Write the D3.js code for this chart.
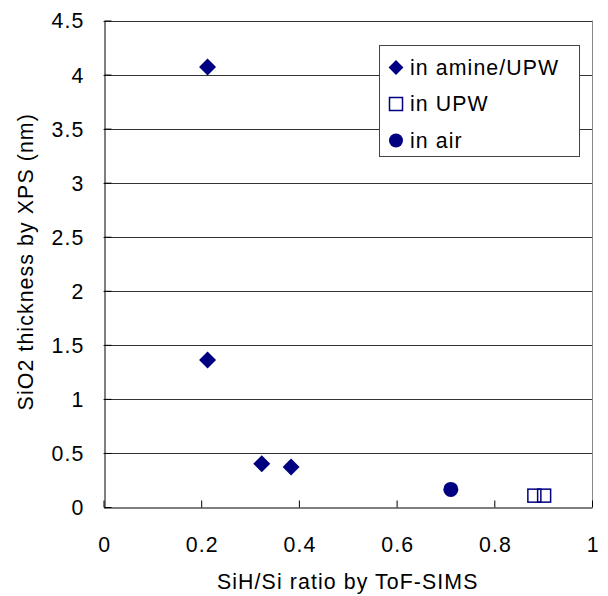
<!DOCTYPE html>
<html>
<head>
<meta charset="utf-8">
<script src="https://cdn.jsdelivr.net/npm/d3@7"></script>
<style>
  body { margin: 0; background: #fff; }
  svg text { font-family: "Liberation Sans", Arial, sans-serif; fill: #000; letter-spacing: 1.1px; }
</style>
</head>
<body>
<svg id="chart" width="608" height="596"></svg>
<script>
// data
var amineX = [0.213, 0.213, 0.324, 0.384];
var amineY = [4.07, 1.36, 0.40, 0.37];
var upwX = [0.882, 0.902];
var upwY = [0.105, 0.105];
var airX = [0.711];
var airY = [0.163];
var xTicks = [0, 0.2, 0.4, 0.6, 0.8, 1];
var yTicks = [0, 0.5, 1, 1.5, 2, 2.5, 3, 3.5, 4, 4.5];
var legendLabels = ["in amine/UPW", "in UPW", "in air"];

const navy = '#000080';
const fontSize = 21.3;
const margin = { top: 20.5, right: 16, bottom: 89, left: 103.5 },
    width = 608,
    height = 596;

const svg = d3.select('#chart');

const x = d3.scaleLinear().domain([0, 1]).range([margin.left, width - margin.right]);
const y = d3.scaleLinear().domain([0, 4.5]).range([height - margin.bottom, margin.top]);

// gridlines
svg.append('g')
    .selectAll('line')
    .data(yTicks.filter((d) => d > 0))
    .join('line')
    .attr('x1', x(0))
    .attr('x2', x(1))
    .attr('y1', (d) => Math.round(y(d)) + 0.5)
    .attr('y2', (d) => Math.round(y(d)) + 0.5)
    .attr('stroke', '#333')
    .attr('stroke-width', 1);

// right border of plot area
svg.append('line')
    .attr('x1', Math.round(x(1)) + 0.5)
    .attr('x2', Math.round(x(1)) + 0.5)
    .attr('y1', y(4.5))
    .attr('y2', y(0))
    .attr('stroke', '#888');

const xAxis = (g) =>
    g.attr('transform', `translate(0,${Math.round(y(0)) + 0.5})`)
        .call(d3.axisTop(x).tickValues(xTicks).tickFormat(d3.format('')).tickSizeInner(7).tickSizeOuter(0))
        .call((g) => g.selectAll('line, path').attr('stroke', '#000'))
        .call((g) => g.selectAll('text')
            .attr('y', 44)
            .attr('dy', 0)
            .attr('dx', 0.6)
            .attr('font-size', fontSize));

const yAxis = (g) =>
    g.attr('transform', `translate(${Math.round(x(0)) + 0.5},0)`)
        .call(d3.axisRight(y).tickValues(yTicks).tickFormat(d3.format('')).tickSizeInner(7).tickSizeOuter(0))
        .call((g) => g.selectAll('line, path').attr('stroke', '#000'))
        .call((g) => g.selectAll('text')
            .attr('x', -20)
            .attr('dy', '0.35em')
            .attr('text-anchor', 'end')
            .attr('font-size', fontSize));

svg.append('g').call(xAxis);
svg.append('g').call(yAxis);

// axis titles
svg.append('text')
    .attr('x', (x(0) + x(1)) / 2)
    .attr('y', 589)
    .attr('text-anchor', 'middle')
    .attr('font-size', fontSize)
    .text('SiH/Si ratio by ToF-SIMS');

svg.append('text')
    .attr('transform', `translate(33,${(y(0) + y(4.5)) / 2 - 2}) rotate(-90)`)
    .attr('text-anchor', 'middle')
    .attr('font-size', fontSize)
    .text('SiO2 thickness by XPS (nm)');

// in amine/UPW
svg.append('g')
    .selectAll('path')
    .data(amineX.map((d, i) => ({ x: d, y: amineY[i] })))
    .join('path')
    .attr('transform', (d) => `translate(${x(d.x)},${y(d.y)}) rotate(45)`)
    .attr('d', d3.symbol().type(d3.symbolSquare).size(144))
    .attr('fill', navy);

// in UPW
svg.append('g')
    .selectAll('rect')
    .data(upwX.map((d, i) => ({ x: d, y: upwY[i] })))
    .join('rect')
    .attr('x', (d) => x(d.x) - 6.5)
    .attr('y', (d) => y(d.y) - 6.5)
    .attr('width', 13)
    .attr('height', 13)
    .attr('fill', 'none')
    .attr('stroke', navy)
    .attr('stroke-width', 1.5);

// in air
svg.append('g')
    .selectAll('circle')
    .data(airX.map((d, i) => ({ x: d, y: airY[i] })))
    .join('circle')
    .attr('cx', (d) => x(d.x))
    .attr('cy', (d) => y(d.y))
    .attr('r', 7.5)
    .attr('fill', navy);

// legend
const legend = svg.append('g').attr('transform', 'translate(379.5,45.5)');
legend.append('rect')
    .attr('width', 200)
    .attr('height', 111)
    .attr('fill', '#fff')
    .attr('stroke', '#444');

const rows = legend.selectAll('g')
    .data(legendLabels)
    .join('g')
    .attr('transform', (d, i) => `translate(16.5,${22 + i * 36.5})`);

rows.filter((d, i) => i == 0).append('path')
    .attr('transform', 'rotate(45)')
    .attr('d', d3.symbol().type(d3.symbolSquare).size(110))
    .attr('fill', navy);
rows.filter((d, i) => i == 1).append('rect')
    .attr('x', -6.5).attr('y', -6.5)
    .attr('width', 13).attr('height', 13)
    .attr('fill', 'none')
    .attr('stroke', navy)
    .attr('stroke-width', 1.5);
rows.filter((d, i) => i == 2).append('circle')
    .attr('r', 7)
    .attr('fill', navy);

rows.append('text')
    .attr('x', 14)
    .attr('dy', '0.35em')
    .attr('font-size', fontSize)
    .text((d) => d);
</script>
</body>
</html>
